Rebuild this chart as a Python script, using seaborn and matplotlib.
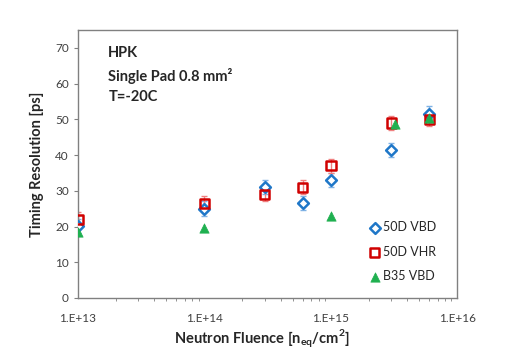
import matplotlib
matplotlib.use("Agg")
import matplotlib.pyplot as plt
import seaborn as sns
import numpy as np
import pandas as pd
from matplotlib.ticker import LogLocator, NullFormatter

# Data
x_vbd = [1e13, 1e14, 3e14, 6e14, 1e15, 3e15, 6e15]
y_vbd = [20.2, 25.0, 31.0, 26.6, 33.1, 41.5, 51.6]
e_vbd = [2.0, 2.0, 2.0, 2.0, 2.0, 2.0, 2.0]

x_vhr = [1e13, 1e14, 3e14, 6e14, 1e15, 3e15, 6e15]
y_vhr = [22.0, 26.5, 29.0, 31.0, 37.0, 49.0, 50.0]
e_vhr = [2.0, 2.0, 2.0, 2.0, 2.0, 2.0, 2.0]

x_b35 = [1e13, 1e14, 1e15, 3.2e15, 6e15]
y_b35 = [18.5, 19.5, 23.0, 48.8, 50.5]

y_ticks = [0, 10, 20, 30, 40, 50, 60, 70]
x_ticks = [1e13, 1e14, 1e15, 1e16]
x_ticklabels = ["1.E+13", "1.E+14", "1.E+15", "1.E+16"]

sns.set_style("white")
plt.rcParams["font.family"] = ["Lato", "DejaVu Sans"]

fig = plt.figure(figsize=(5.05, 3.55), dpi=100)
ax = fig.add_axes([0.1545, 0.1606, 0.751, 0.755])

blue = "#1f77c8"
red = "#d00000"
green = "#1fb050"

ax.errorbar(x_vbd, y_vbd, yerr=e_vbd, fmt="none", ecolor="#7fb2e5", elinewidth=1, capsize=2.5, zorder=2)
ax.errorbar(x_vhr, y_vhr, yerr=e_vhr, fmt="none", ecolor="#f08080", elinewidth=1, capsize=2.5, zorder=2)

df_vbd = pd.DataFrame({"x": x_vbd, "y": y_vbd})
df_vhr = pd.DataFrame({"x": x_vhr, "y": y_vhr})
df_b35 = pd.DataFrame({"x": x_b35, "y": y_b35})

sns.scatterplot(data=df_vbd, x="x", y="y", ax=ax, marker="D", s=30, facecolor="white",
                edgecolor=blue, linewidth=1.8, label="50D VBD", zorder=3)
sns.scatterplot(data=df_vhr, x="x", y="y", ax=ax, marker="s", s=45, facecolor="none",
                edgecolor=red, linewidth=1.8, label="50D VHR", zorder=4)
sns.scatterplot(data=df_b35, x="x", y="y", ax=ax, marker="^", s=45, color=green,
                edgecolor=green, linewidth=0.5, label="B35 VBD", zorder=5)

ax.set_xscale("log")
ax.set_xlim(1e13, 1e16)
ax.set_ylim(0, 75)
ax.set_yticks(y_ticks)
ax.set_yticklabels([str(v) for v in y_ticks], fontsize=8.5, color="#404040")
ax.set_xticks(x_ticks)
ax.set_xticklabels(x_ticklabels, fontsize=8.5, color="#404040")
ax.xaxis.set_minor_locator(LogLocator(base=10, subs=np.arange(2, 10)))
ax.xaxis.set_minor_formatter(NullFormatter())
ax.tick_params(axis="x", which="major", direction="out", length=4, color="#808080", width=0.8, pad=7)
ax.tick_params(axis="x", which="minor", direction="out", length=2.5, color="#808080", width=0.6, bottom=True)
ax.tick_params(axis="y", which="major", direction="out", length=3, color="#808080", width=0.8, left=True)

for sp in ax.spines.values():
    sp.set_color("#808080")
    sp.set_linewidth(1.0)

ax.set_xlabel("Neutron Fluence [n$_{\\mathregular{eq}}$/cm$^{\\mathregular{2}}$]", fontsize=10.5,
              fontweight="bold", color="#262626", labelpad=0)
ax.xaxis.set_label_coords(0.485, -0.11)
ax.set_ylabel("Timing Resolution [ps]", fontsize=10.5, fontweight="bold", color="#262626", labelpad=8)

ax.text(0.08, 0.94, "HPK\nSingle Pad 0.8 mm²\nT=-20C", transform=ax.transAxes, fontsize=10.5,
        fontweight="bold", color="#262626", va="top", ha="left", linespacing=1.6)

leg = ax.legend(loc="lower right", bbox_to_anchor=(0.965, 0.03), frameon=False, fontsize=9,
                handletextpad=0.1, labelspacing=1.0, handlelength=1.2, borderaxespad=0.2)
for t in leg.get_texts():
    t.set_color("#262626")

fig.savefig("out.png", dpi=100)
